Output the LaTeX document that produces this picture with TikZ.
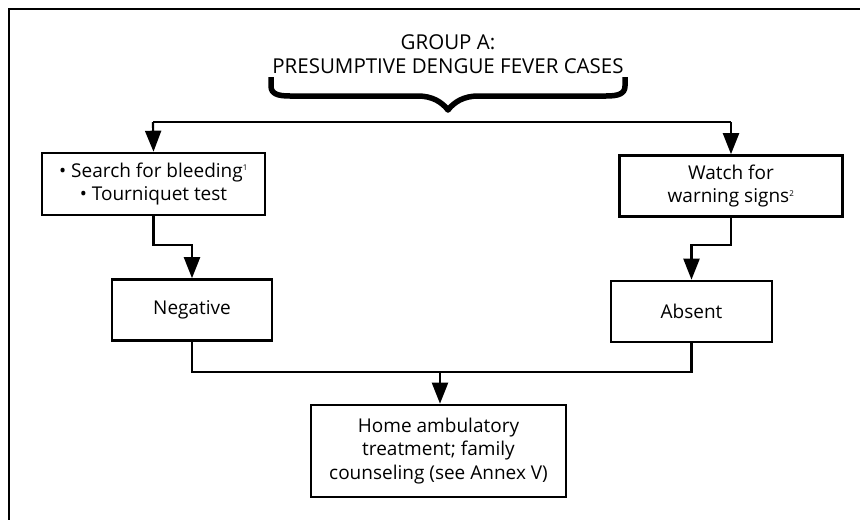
\documentclass[tikz,border=0pt]{standalone}
\usepackage{fontspec}
\setmainfont{Open Sans}
\usetikzlibrary{arrows.meta}
\begin{document}
\begin{tikzpicture}[x=1pt,y=-1pt,
  box/.style={draw,line width=2.6pt,align=center,inner sep=0pt,font=\fontsize{19}{23.5}\selectfont},
  conn/.style={line width=2.2pt},
  arr/.style={conn,-{Triangle[length=21pt,width=16pt]}}]
\useasboundingbox (0,0) rectangle (860,520);
% frame
\draw[line width=2pt] (860,9) -- (9,9) -- (9,520);
% title
\node[align=center,font=\fontsize{20.5}{24.5}\selectfont] (title) at (448,54) {GROUP A:\\PRESUMPTIVE DENGUE FEVER CASES};
% brace
\draw[line width=5.5pt,line join=round] (271,77) -- (271,86) .. controls (271,94) and (278,96) .. (290,96) -- (418,96)
  .. controls (432,96) and (442,102) .. (448,110) .. controls (454,102) and (464,96) .. (478,96) -- (606,96)
  .. controls (618,96) and (625,94) .. (625,86) -- (625,77);
% nodes
\node[box,minimum width=223pt,minimum height=62pt] (search) at (153.5,184) {\textbullet\ Search for bleeding\textsuperscript{\fontsize{8}{8}\selectfont 1}\\\textbullet\ Tourniquet test};
\node[box,minimum width=223pt,minimum height=61pt] (watch) at (731,186) {Watch for\\warning signs\textsuperscript{\fontsize{8}{8}\selectfont 2}};
\node[box,minimum width=160pt,minimum height=61pt] (neg) at (192,310) {Negative};
\node[box,minimum width=161pt,minimum height=61pt] (abs) at (691.5,311.5) {Absent};
\node[box,minimum width=255pt,minimum height=92pt] (home) at (438.5,451) {Home ambulatory\\treatment; family\\counseling (see Annex V)};
% connectors
\coordinate (topL) at (153,122);
\coordinate (topR) at (731,122);
\draw[conn] (topL) -- (topR);
\draw[arr] (topL) -- (search.north);
\draw[arr] (topR) -- (watch.north);
\draw[arr] (search.south) -- ++(0,29) -| (neg.north);
\draw[arr] (watch.south) -- ++(0,27) -| (abs.north);
\coordinate (mid) at (440,372);
\draw[conn] (neg.south) |- (mid) -| (abs.south);
\draw[arr] (mid) -- (home.north -| mid);
\end{tikzpicture}
\end{document}
